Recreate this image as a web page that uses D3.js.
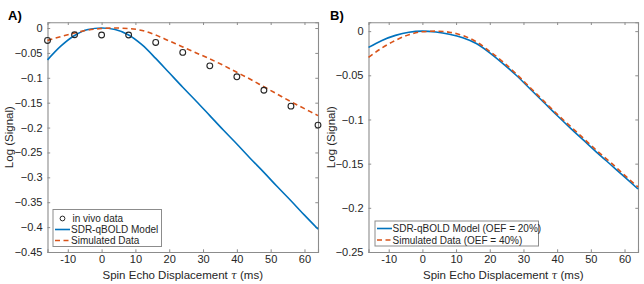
<!DOCTYPE html>
<html><head><meta charset="utf-8">
<script src="https://cdn.jsdelivr.net/npm/d3@7"></script>
<style>
body{margin:0;background:#fff;}
svg text{font-family:"Liberation Sans",Arial,Helvetica,sans-serif;}
</style></head>
<body><svg id="c" width="644" height="284"></svg>
<script>
// ---- data ----
const tauModel = [-16,-12,-8,-4,0,4,8,12,16,20,24,28,32,36,40,44,48,52,56,60,64];
const modelA = [-0.064,-0.036,-0.015,-0.003,0,-0.003,-0.014,-0.034,-0.061,-0.090,-0.119,-0.147,-0.176,-0.205,-0.233,-0.262,-0.290,-0.319,-0.347,-0.376,-0.404];
const simA   = [-0.025,-0.017,-0.010,-0.004,-0.001,0.0,-0.001,-0.005,-0.014,-0.026,-0.038,-0.050,-0.062,-0.075,-0.089,-0.103,-0.118,-0.133,-0.148,-0.162,-0.176];
const tauVivo = [-16,-8,0,8,16,24,32,40,48,56,64];
const vivoA  = [-0.025,-0.0135,-0.014,-0.014,-0.029,-0.049,-0.076,-0.098,-0.125,-0.157,-0.195];
const modelB = [-0.0184,-0.0105,-0.0048,-0.0012,0,-0.0010,-0.0035,-0.0075,-0.0140,-0.0245,-0.0370,-0.0505,-0.0655,-0.0805,-0.0955,-0.1100,-0.1240,-0.1380,-0.1515,-0.1650,-0.1787];
const simB   = [-0.0297,-0.0190,-0.0105,-0.0040,-0.0007,0.0,-0.0012,-0.0050,-0.0120,-0.0230,-0.0350,-0.0490,-0.0640,-0.0790,-0.0940,-0.1080,-0.1220,-0.1360,-0.1490,-0.1630,-0.1765];
const xTicks = [-10,0,10,20,30,40,50,60];
const yTicksA = [0,-0.05,-0.1,-0.15,-0.2,-0.25,-0.3,-0.35,-0.4,-0.45];
const yTicksB = [0,-0.05,-0.1,-0.15,-0.2,-0.25];
const legendA = ["in vivo data","SDR-qBOLD Model","Simulated Data"];
const legendB = ["SDR-qBOLD Model (OEF = 20%)","Simulated Data (OEF = 40%)"];

const BLUE = "#0072BD", ORANGE = "#D95319", AX = "#8c8c8c", TXT = "#262626";
const svg = d3.select("#c");

function fmt(v){ if (v===0) return "0"; return d3.format("")(v); }

function panel(opts){
  const {x0,x1,y0,y1,ydom,yTicks,label,lx} = opts;
  const x = d3.scaleLinear().domain([-16,64]).range([x0,x1]);
  const y = d3.scaleLinear().domain(ydom).range([y1,y0]);
  const g = svg.append("g");
  const tl = 2.7;
  const bottom = g.append("g").attr("transform",`translate(0,${y1})`)
    .call(d3.axisBottom(x).tickValues(xTicks).tickSize(-tl).tickPadding(3).tickFormat(d=>d));
  const top = g.append("g").attr("transform",`translate(0,${y0})`)
    .call(d3.axisTop(x).tickValues(xTicks).tickSize(-tl).tickFormat(""));
  const left = g.append("g").attr("transform",`translate(${x0},0)`)
    .call(d3.axisLeft(y).tickValues(yTicks).tickSize(-tl).tickPadding(5).tickFormat(fmt));
  const right = g.append("g").attr("transform",`translate(${x1},0)`)
    .call(d3.axisRight(y).tickValues(yTicks).tickSize(-tl).tickFormat(""));
  [bottom,top,left,right].forEach(a=>{
    a.select(".domain").attr("stroke",AX).attr("stroke-width",1.1);
    a.selectAll(".tick line").attr("stroke",AX);
    a.selectAll(".tick text").attr("fill",TXT).style("font-size","11px")
      .style("font-family","'Liberation Sans',Arial,sans-serif");
  });
  g.append("text").attr("x",(x0+x1)/2).attr("y",279).attr("text-anchor","middle")
    .attr("fill",TXT).style("font-size","11.5px")
    .html('Spin Echo Displacement <tspan font-style="italic" font-family="DejaVu Serif" font-size="10.5px">τ</tspan> (ms)');
  g.append("text").attr("transform",`translate(${lx},${(y0+y1)/2}) rotate(-90)`)
    .attr("text-anchor","middle").attr("fill",TXT).style("font-size","11.5px").text("Log (Signal)");
  g.append("text").attr("x",opts.labx).attr("y",20).attr("font-weight","bold")
    .style("font-size","13px").attr("fill","#000").text(label);
  return {x,y,g};
}

function drawLine(p, ys, color, dashed){
  const line = d3.line().x((d,i)=>p.x(tauModel[i])).y(d=>p.y(d)).curve(d3.curveMonotoneX);
  p.g.append("path").datum(ys).attr("d",line).attr("fill","none")
    .attr("stroke",color).attr("stroke-width",1.6)
    .attr("stroke-dasharray",dashed?"5,3.5":null);
}

// Panel A
const A = panel({x0:47.5,x1:318,y0:22.3,y1:252,ydom:[-0.45,0.0115],yTicks:yTicksA,label:"A)",lx:13,labx:8});
drawLine(A, modelA, BLUE, false);
drawLine(A, simA, ORANGE, true);
A.g.selectAll("circle.v").data(vivoA).enter().append("circle")
  .attr("cx",(d,i)=>A.x(tauVivo[i])).attr("cy",d=>A.y(d)).attr("r",2.9)
  .attr("fill","none").attr("stroke","#262626").attr("stroke-width",1.1);

(function(){
  const lg = A.g.append("g");
  lg.append("rect").attr("x",53).attr("y",209.5).attr("width",108.5).attr("height",37)
    .attr("fill","#fff").attr("stroke",AX).attr("stroke-width",1);
  const rows=[218.5,229.5,240.5];
  lg.append("circle").attr("cx",62.5).attr("cy",rows[0]).attr("r",2.4).attr("fill","none").attr("stroke","#262626");
  lg.append("line").attr("x1",55).attr("x2",70).attr("y1",rows[1]).attr("y2",rows[1]).attr("stroke",BLUE).attr("stroke-width",1.6);
  lg.append("line").attr("x1",55).attr("x2",70).attr("y1",rows[2]).attr("y2",rows[2]).attr("stroke",ORANGE).attr("stroke-width",1.6).attr("stroke-dasharray","5,3.5");
  legendA.forEach((t,i)=>lg.append("text").attr("x",i===0?72.5:71).attr("y",rows[i]+3.5)
    .attr("fill",TXT).style("font-size","10px").text(t));
})();

// Panel B
const B = panel({x0:368.5,x1:638,y0:22.3,y1:252,ydom:[-0.25,0.01],yTicks:yTicksB,label:"B)",lx:335,labx:330});
drawLine(B, modelB, BLUE, false);
drawLine(B, simB, ORANGE, true);
(function(){
  const lg = B.g.append("g");
  lg.append("rect").attr("x",375).attr("y",221).attr("width",163.5).attr("height",25)
    .attr("fill","#fff").attr("stroke",AX).attr("stroke-width",1);
  const rows=[228.5,240];
  lg.append("line").attr("x1",377).attr("x2",392).attr("y1",rows[0]).attr("y2",rows[0]).attr("stroke",BLUE).attr("stroke-width",1.6);
  lg.append("line").attr("x1",377).attr("x2",392).attr("y1",rows[1]).attr("y2",rows[1]).attr("stroke",ORANGE).attr("stroke-width",1.6).attr("stroke-dasharray","5,3.5");
  legendB.forEach((t,i)=>lg.append("text").attr("x",392.5).attr("y",rows[i]+3.5)
    .attr("fill",TXT).style("font-size","10px").text(t));
})();
</script></body></html>
